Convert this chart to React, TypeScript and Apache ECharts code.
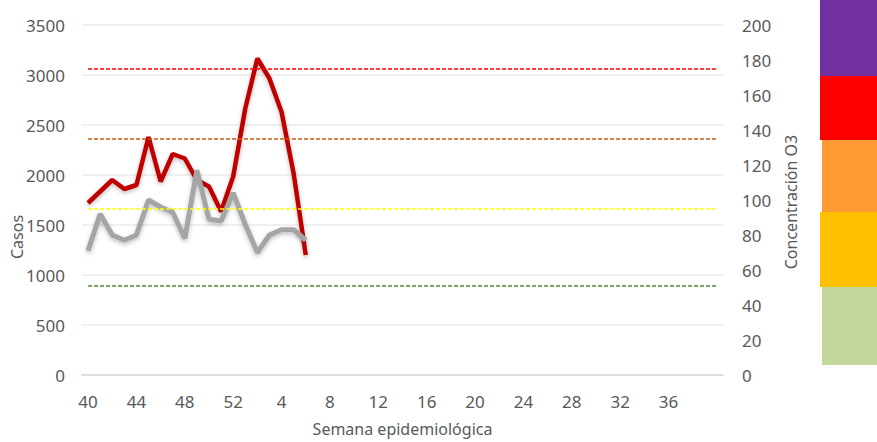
import React, { useEffect, useRef } from "react";
import * as echarts from "echarts";

// Semanas epidemiológicas (40 de un año a 40 del siguiente)
const weeks = [
  "40", "41", "42", "43", "44", "45", "46", "47", "48", "49", "50", "51", "52",
  "1", "2", "3", "4", "5", "6", "7", "8", "9", "10", "11", "12", "13", "14",
  "15", "16", "17", "18", "19", "20", "21", "22", "23", "24", "25", "26", "27",
  "28", "29", "30", "31", "32", "33", "34", "35", "36", "37", "38", "39", "40",
];

// Casos (eje izquierdo)
const casos = [
  1720, 1835, 1950, 1860, 1900, 2380, 1935, 2210, 2165, 1950, 1885, 1635, 1985,
  2665, 3165, 2965, 2630, 2015, 1200,
];

// Concentración O3 (eje derecho)
const o3 = [71, 92, 80, 77, 80, 100, 96, 93, 78, 117, 89, 88, 104, 86, 70, 80, 83, 83, 77];

// Límites de calidad del aire para O3
const o3Limits = [51, 95, 135, 175];
const limitColors = ["#548235", "#FFFF00", "#C55A11", "#FF0000"];

// Bandas de color (decoración a la derecha)
const bandColors = ["#7030A0", "#FF0000", "#FF9933", "#FFC000", "#C4D79B"];

const FONT = "'Noto Sans', 'Open Sans', sans-serif";
const TXT = "#595959";

export default function App() {
  const ref = useRef<HTMLDivElement>(null);

  useEffect(() => {
    if (!ref.current) return;
    const chart = echarts.init(ref.current, null, { renderer: "svg" });
    const lastIdx = weeks.length - 1;
    const bands = [
      { y: 0, h: 76, x: 820 },
      { y: 76, h: 64, x: 820 },
      { y: 140, h: 72, x: 822 },
      { y: 212, h: 75, x: 820 },
      { y: 287, h: 78, x: 822 },
    ];
    chart.setOption({
      animation: false,
      backgroundColor: "#ffffff",
      textStyle: { fontFamily: FONT },
      grid: {
        left: 82,
        right: 154,
        top: 25,
        bottom: 67,
        containLabel: false,
        outerBoundsMode: "none",
      },
      xAxis: {
        type: "category",
        data: weeks,
        boundaryGap: true,
        axisTick: { show: false },
        axisLine: { lineStyle: { color: "#D9D9D9", width: 1.5 } },
        axisLabel: {
          interval: (index: number) => index % 4 === 0 && index < lastIdx,
          margin: 18,
          fontSize: 17,
          color: TXT,
          fontFamily: FONT,
        },
        splitLine: { show: false },
        name: "Semana epidemiológica",
        nameLocation: "middle",
        nameGap: 46,
        nameTextStyle: { fontSize: 16, color: TXT, fontFamily: FONT },
      },
      yAxis: [
        {
          type: "value",
          min: 0,
          max: 3500,
          interval: 500,
          axisLine: { show: false },
          axisTick: { show: false },
          axisLabel: {
            margin: 17,
            fontSize: 17,
            color: TXT,
            fontFamily: FONT,
            formatter: (v: number) => String(v),
          },
          splitLine: { lineStyle: { color: "#EBEBEB", width: 1.5 } },
        },
        {
          type: "value",
          min: 0,
          max: 200,
          interval: 20,
          position: "right",
          axisLine: { show: false },
          axisTick: { show: false },
          axisLabel: {
            margin: 19,
            fontSize: 17,
            color: TXT,
            fontFamily: FONT,
            formatter: (v: number) => String(v),
          },
          splitLine: { show: false },
        },
      ],
      graphic: [
        {
          type: "text",
          x: 17,
          y: 237,
          rotation: Math.PI / 2,
          style: {
            text: "Casos",
            fontSize: 16,
            fontFamily: FONT,
            fill: TXT,
            align: "center",
            verticalAlign: "middle",
          },
        },
        {
          type: "text",
          x: 791,
          y: 202,
          rotation: Math.PI / 2,
          style: {
            text: "Concentración O3",
            fontSize: 16,
            fontFamily: FONT,
            fill: TXT,
            align: "center",
            verticalAlign: "middle",
          },
        },
        ...bands.map((b, i) => ({
          type: "rect",
          shape: { x: b.x, y: b.y, width: 877 - b.x, height: b.h },
          style: { fill: bandColors[i] },
        })),
      ],
      series: [
        {
          name: "Límites",
          type: "line",
          yAxisIndex: 1,
          data: [],
          silent: true,
          z: 1,
          markLine: {
            silent: true,
            symbol: ["none", "none"],
            label: { show: false },
            data: o3Limits.map((v, i) => [
              { xAxis: 0, yAxis: v, lineStyle: { color: limitColors[i], type: [4, 2], width: 1.5 } },
              { xAxis: lastIdx, yAxis: v },
            ]),
          },
        },
        {
          name: "Casos",
          type: "line",
          yAxisIndex: 0,
          data: casos,
          showSymbol: false,
          symbol: "none",
          z: 3,
          lineStyle: {
            color: "#C00000",
            width: 4.5,
            shadowColor: "rgba(0,0,0,0.25)",
            shadowBlur: 4,
            shadowOffsetY: 2,
          },
        },
        {
          name: "O3",
          type: "line",
          yAxisIndex: 1,
          data: o3,
          showSymbol: false,
          symbol: "none",
          z: 4,
          lineStyle: {
            color: "#A5A5A5",
            width: 5,
            shadowColor: "rgba(0,0,0,0.25)",
            shadowBlur: 4,
            shadowOffsetY: 2,
          },
        },
      ],
    });
    return () => chart.dispose();
  }, []);

  return (
    <div
      ref={ref}
      style={{ position: "fixed", left: 0, top: 0, width: 877, height: 442, background: "#fff" }}
    />
  );
}
